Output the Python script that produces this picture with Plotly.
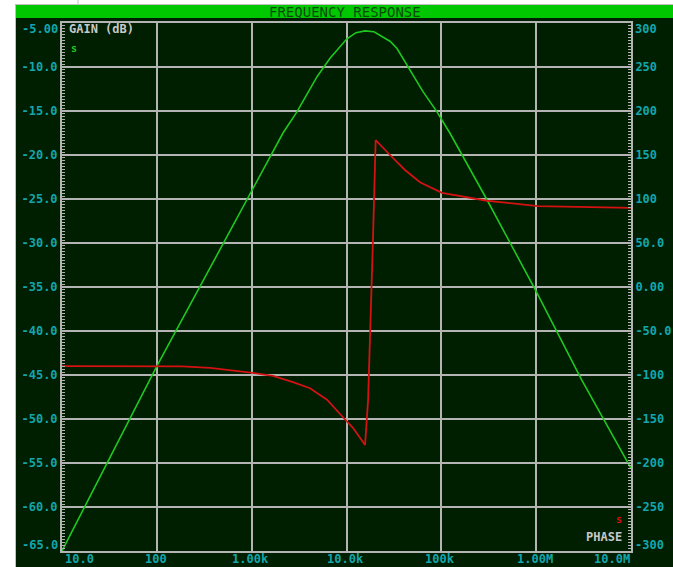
import math
import plotly.graph_objects as go

# ---- data -------------------------------------------------------------
gain_freq_hz = [10, 25, 50, 100, 300, 1000, 2140, 3000, 4890, 6700, 8300,
                10100, 12600, 15700, 19500, 24300, 29000, 34100, 44500,
                64100, 90000, 123000, 300000, 1000000, 3000000, 10000000]
gain_db = [-65.0, -56.6, -50.3, -44.0, -34.5, -24.0, -17.5, -15.1, -11.1,
           -9.0, -7.8, -6.8, -6.1, -5.9, -6.0, -6.6, -7.1, -7.9, -10.0,
           -12.8, -15.1, -17.5, -25.0, -35.5, -45.5, -55.6]

phase_freq_hz = [10, 85, 184, 364, 591, 1030, 1680, 2730, 4120, 6230, 9180,
                 11700, 15700, 16250, 16900, 19000, 19500, 20000, 20300,
                 28800, 41400, 59600, 101600, 303000, 1040000, 10000000]
phase_deg = [-90.0, -90.0, -90.3, -92.0, -94.3, -97.7, -101.0, -108.0,
             -115.0, -128.0, -148.0, -160.0, -179.5, -153.0, -128.0, 53.0,
             93.0, 141.0, 167.0, 150.0, 133.0, 119.0, 107.0, 98.0, 92.0, 90.0]

x_tick_vals = [10, 100, 1000, 10000, 100000, 1000000, 10000000]
x_tick_text = ["10.0", "100", "1.00k", "10.0k", "100k", "1.00M", "10.0M"]
x_tick_align = ["left", "center", "center", "center", "center", "center",
                "right"]

gain_tick_vals = [-10, -15, -20, -25, -30, -35, -40, -45, -50, -55, -60]
gain_tick_text = ["-10.0", "-15.0", "-20.0", "-25.0", "-30.0", "-35.0",
                  "-40.0", "-45.0", "-50.0", "-55.0", "-60.0"]
gain_edge_vals = [-5, -65]
gain_edge_text = ["-5.00", "-65.0"]

phase_tick_vals = [250, 200, 150, 100, 50, 0, -50, -100, -150, -200, -250]
phase_tick_text = ["250", "200", "150", "100", "50.0", "0.00", "-50.0",
                   "-100", "-150", "-200", "-250"]
phase_edge_vals = [300, -300]
phase_edge_text = ["300", "-300"]

# ---- style ------------------------------------------------------------
W, H = 673, 567
L, R, T, B = 62, 631, 23, 551          # plot area in pixels
BG = "#001e00"
GRID = "#b4b4b4"
TEAL = "#12a6ae"
GAIN_COL = "#1ec81e"
PHASE_COL = "#d41212"
MONO = "DejaVu Sans Mono"
lab_font = dict(family=MONO, size=12, color=TEAL, weight="bold")


def px(x):
    return (x - L) / (R - L)


def py(y):
    return (B - y) / (B - T)


fig = go.Figure()
fig.add_trace(go.Scatter(x=gain_freq_hz, y=gain_db, mode="lines",
                         line=dict(color=GAIN_COL, width=1.6),
                         name="GAIN (dB)", yaxis="y"))
fig.add_trace(go.Scatter(x=phase_freq_hz, y=phase_deg, mode="lines",
                         line=dict(color=PHASE_COL, width=1.8),
                         name="PHASE", yaxis="y2"))

minor_common = dict(ticks="inside", ticklen=3, tickwidth=1, tickcolor=GRID,
                    showgrid=False, tickmode="linear")

fig.update_layout(
    width=W, height=H,
    margin=dict(l=L, r=W - R, t=T, b=H - B, pad=0, autoexpand=False),
    paper_bgcolor=BG, plot_bgcolor=BG,
    showlegend=False,
    xaxis=dict(type="log", range=[1, 7], tickmode="array",
               tickvals=x_tick_vals, showticklabels=False,
               showgrid=True, gridcolor=GRID, gridwidth=2,
               showline=True, linecolor=GRID, linewidth=2, mirror=True,
               ticks="", zeroline=False, automargin=False),
    yaxis=dict(range=[-65, -5], tickmode="array", tickvals=gain_tick_vals,
               ticktext=gain_tick_text, tickfont=lab_font,
               showgrid=True, gridcolor=GRID, gridwidth=2,
               showline=True, linecolor=GRID, linewidth=2, mirror=True,
               ticks="inside", ticklen=4, tickcolor=GRID, zeroline=False,
               ticklabelstandoff=0, automargin=False,
               minor=dict(tick0=-65, dtick=1 / 3, **minor_common)),
    yaxis2=dict(range=[-300, 300], overlaying="y", side="right",
                tickmode="array", tickvals=phase_tick_vals,
                ticktext=phase_tick_text, tickfont=lab_font,
                showgrid=False, showline=True, linecolor=GRID, linewidth=2,
                ticks="inside", ticklen=4, tickcolor=GRID, zeroline=False,
                ticklabelstandoff=0, automargin=False,
                minor=dict(tick0=-300, dtick=10 / 3, **minor_common)),
)

shapes = [
    # white page strips outside the panel
    dict(type="rect", xref="paper", yref="paper", x0=px(0), x1=px(15),
         y0=py(H), y1=py(0), fillcolor="white", line_width=0),
    dict(type="rect", xref="paper", yref="paper", x0=px(0), x1=px(W),
         y0=py(4), y1=py(0), fillcolor="white", line_width=0),
    # thin frame around the panel
    dict(type="line", xref="paper", yref="paper", x0=px(15.5), x1=px(15.5),
         y0=py(H), y1=py(4), line=dict(color="#c0c0c0", width=1)),
    dict(type="line", xref="paper", yref="paper", x0=px(15), x1=px(W),
         y0=py(4.5), y1=py(4.5), line=dict(color="#c0c0c0", width=1)),
    dict(type="line", xref="paper", yref="paper", x0=px(78), x1=px(78),
         y0=py(4), y1=py(0), line=dict(color="#c0c0c0", width=1)),
    # title bar
    dict(type="rect", xref="paper", yref="paper", x0=px(16), x1=px(W),
         y0=py(18), y1=py(5), fillcolor="#00c800", line_width=0),
]
fig.update_layout(shapes=shapes)

ann = [
    dict(text="FREQUENCY RESPONSE", x=px(345), y=py(11.5), xanchor="center",
         yanchor="middle",
         font=dict(family=MONO, size=14, color="#0b4a0b")),
    dict(text="GAIN (dB)", x=px(67), y=py(29), xanchor="left",
         yanchor="middle",
         font=dict(family=MONO, size=12, color="#c8c8c8", weight="bold")),
    dict(text="s", x=px(69), y=py(49), xanchor="left", yanchor="middle",
         font=dict(family=MONO, size=10, color=GAIN_COL, weight="bold")),
    dict(text="PHASE", x=px(624), y=py(537), xanchor="right",
         yanchor="middle",
         font=dict(family=MONO, size=12, color="#c8c8c8", weight="bold")),
    dict(text="s", x=px(624), y=py(519), xanchor="right", yanchor="middle",
         font=dict(family=MONO, size=10, color=PHASE_COL, weight="bold")),
]
for a in ann:
    a.update(xref="paper", yref="paper", showarrow=False)

# frequency labels under the axis (log axis: positions in decades);
# the two end labels sit inside the frame
for val, txt, al in zip(x_tick_vals, x_tick_text, x_tick_align):
    ann.append(dict(text=txt, x=math.log10(val), xref="x", xanchor=al,
                    xshift=1 if al != "center" else -1,
                    y=py(558.5), yref="paper", yanchor="middle",
                    font=lab_font, showarrow=False))

# end-of-axis labels on the two vertical scales
ann += [
    dict(text=gain_edge_text[0], x=px(60), xref="paper", y=gain_edge_vals[0],
         yref="y", xanchor="right", yanchor="middle", yshift=-6,
         font=lab_font, showarrow=False),
    dict(text=gain_edge_text[1], x=px(60), xref="paper", y=gain_edge_vals[1],
         yref="y", xanchor="right", yanchor="middle", yshift=6,
         font=lab_font, showarrow=False),
    dict(text=phase_edge_text[0], x=px(633), xref="paper",
         y=phase_edge_vals[0], yref="y2", xanchor="left", yanchor="middle",
         yshift=-6, font=lab_font, showarrow=False),
    dict(text=phase_edge_text[1], x=px(633), xref="paper",
         y=phase_edge_vals[1], yref="y2", xanchor="left", yanchor="middle",
         yshift=6, font=lab_font, showarrow=False),
]
fig.update_layout(annotations=ann)

fig.write_html("out.html")
